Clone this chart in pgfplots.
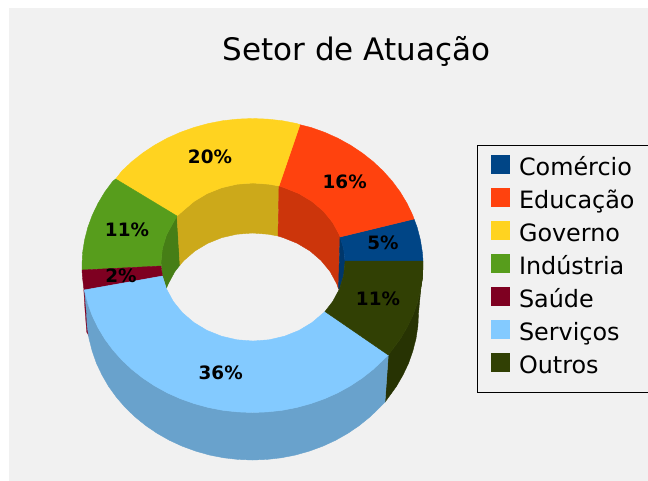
\documentclass[border=0pt]{standalone}
\usepackage{fontspec}
\setmainfont{DejaVu Sans}
\usepackage{pgfplots}
\pgfplotsset{compat=1.18}

\definecolor{bg}{HTML}{F1F1F1}
\definecolor{com}{HTML}{004586}
\definecolor{edu}{HTML}{FF420E}
\definecolor{gov}{HTML}{FFD320}
\definecolor{ind}{HTML}{579D1C}
\definecolor{sau}{HTML}{7E0021}
\definecolor{ser}{HTML}{83CAFF}
\definecolor{out}{HTML}{314004}
% darker side walls
\definecolor{comw}{HTML}{00376B}
\definecolor{eduw}{HTML}{CC350B}
\definecolor{govw}{HTML}{CCA91A}
\definecolor{indw}{HTML}{467E16}
\definecolor{serw}{HTML}{69A2CC}
\definecolor{outw}{HTML}{273303}

\begin{document}
\begin{tikzpicture}
\path[use as bounding box,clip] (0,0) rectangle (486pt,360pt);
\begin{axis}[
	at={(0,0)}, anchor=south west,
	scale only axis, width=486pt, height=360pt,
	xmin=0, xmax=648, ymin=0, ymax=480, y dir=reverse,
	hide axis, no markers,
	legend style={
		at={(axis cs:491,153)}, anchor=north west,
		draw=none, fill=none, inner sep=0pt,
		font=\fontsize{17.9pt}{20pt}\selectfont,
		row sep=0pt,
		nodes={text height=17pt, text depth=7.75pt, inner sep=0pt, outer sep=0pt},
		/tikz/column 1/.style={column sep=7pt},
	},
	legend cell align=left,
	legend image code/.code={
		\fill[#1] (3pt,-2.5pt) rectangle (16.5pt,11pt);
	},
]
% panel
\addplot[draw=bg,fill=bg,forget plot] coordinates {(9,8)(648,8)(648,480)(9,480)} --cycle;
\addplot[draw=black,line width=.75pt,fill=bg,forget plot] coordinates {(477.5,145)(670,145)(670,392)(477.5,392)} --cycle;

% inner walls of the hole
\addplot[draw=indw,fill=indw,line width=.3pt,forget plot] coordinates {(177,216)(173.3,222.5)(166.5,235)(162.4,248.3)(161,262)(162.4,275.7)(166.5,288)(168.3,283.7)(174.9,271.5)(180,265)} --cycle;
\addplot[draw=govw,fill=govw,line width=.3pt,forget plot] coordinates {(279,186)(269,184.2)(253,183)(237,184.2)(221.5,187.8)(207,193.6)(193.9,201.5)(182.5,211.2)(177,216)(180,265)(183.9,260.5)(194.9,251)(207.7,243.3)(221.9,237.6)(236.9,234.2)(252.5,233)(268.1,234.2)(278,236)} --cycle;
\addplot[draw=eduw,fill=eduw,line width=.3pt,forget plot] coordinates {(340,237)(339.5,235)(332.7,222.5)(323.5,211.2)(312.1,201.5)(299,193.6)(284.5,187.8)(279,186)(278,236)(283.1,237.6)(297.3,243.3)(310.1,251)(321.1,260.5)(330.1,271.5)(336.7,283.7)(338.5,289)} --cycle;
\addplot[draw=comw,fill=comw,line width=.3pt,forget plot] coordinates {(340,237)(343.6,248.3)(345,262)(343.6,275.7)(339.5,289)(338.5,289)} --cycle;

% outer walls
\addplot[draw=sau,fill=sau,line width=.2pt,forget plot] coordinates {(83.8,290)(85,310)(86.7,332)(89,336)(89,290)} --cycle;
\addplot[draw=outw,fill=outw,line width=.3pt,forget plot] coordinates {(388.3,355)(392.2,349.8)(400.2,339)(407,327.6)(412.7,315.8)(417.2,303.5)(420.4,291)(422.4,278.3)(423,265.5)(418.5,313)(417.9,325.8)(416,338.5)(412.8,351)(408.5,363.3)(402.9,375.1)(396.3,386.5)(388.5,397.3)(385,402)} --cycle;
\addplot[draw=serw,fill=serw,line width=.3pt,forget plot] coordinates {
	(84.6,291)(87.8,303.5)(92.3,315.8)(98,327.6)(104.8,339)(112.8,349.8)(121.9,360)(131.9,369.4)(142.9,378.1)(154.7,385.9)(167.2,392.8)(180.4,398.7)(194.2,403.6)(208.4,407.5)(222.9,410.3)(237.6,411.9)(252.5,412.5)(267.4,411.9)(282.1,410.3)(296.6,407.5)(310.8,403.6)(324.6,398.7)(337.8,392.8)(350.3,385.9)(362.1,378.1)(373.1,369.4)(383.1,360)(388.3,355)
	(385,402)(379.7,407.5)(369.9,416.9)(359.2,425.6)(347.7,433.4)(335.5,440.3)(322.7,446.2)(309.3,451.1)(295.5,455)(281.3,457.8)(267,459.4)(252.5,460)(238,459.4)(223.7,457.8)(209.5,455)(195.7,451.1)(182.3,446.2)(169.5,440.3)(157.3,433.4)(145.8,425.6)(135.1,416.9)(125.3,407.5)(116.5,397.3)(108.7,386.5)(102.1,375.1)(96.5,363.3)(92.2,351)(89,338.5)(87.1,325.8)(86.5,313)
} --cycle;

% top surface, one slice per category
\addplot[draw=com,fill=com,line width=.3pt] coordinates {(414,219)(417.2,227.5)(420.4,240)(422.4,252.7)(423,261)(345,261)(343.6,248.3)(340,237)} --cycle;
\addlegendentry{Comércio}
\addplot[draw=edu,fill=edu,line width=.3pt] coordinates {(414,219)(412.7,215.2)(407,203.4)(400.2,192)(392.2,181.2)(383.1,171)(373.1,161.6)(362.1,152.9)(350.3,145.1)(337.8,138.2)(324.6,132.3)(310.8,127.4)(300,124.7)(279,186)(284.5,187.8)(299,193.6)(312.1,201.5)(323.5,211.2)(332.7,222.5)(339.5,235)(340,237)} --cycle;
\addlegendentry{Educação}
\addplot[draw=gov,fill=gov,line width=.3pt] coordinates {(300,124.7)(296.6,123.5)(282.1,120.7)(267.4,119.1)(252.5,118.5)(237.6,119.1)(222.9,120.7)(208.4,123.5)(194.2,127.4)(180.4,132.3)(167.2,138.2)(154.7,145.1)(142.9,152.9)(131.9,161.6)(121.9,171)(115.7,179)(177,216)(182.5,211.2)(193.9,201.5)(207,193.6)(221.5,187.8)(237,184.2)(253,183)(269,184.2)(279,186)} --cycle;
\addlegendentry{Governo}
\addplot[draw=ind,fill=ind,line width=.3pt] coordinates {(115.7,179)(112.8,181.2)(104.8,192)(98,203.4)(92.3,215.2)(87.8,227.5)(84.6,240)(82.6,252.7)(82,265.5)(82,270)(161,266)(161,262)(162.4,248.3)(166.5,235)(173.3,222.5)(177,216)} --cycle;
\addlegendentry{Indústria}
\addplot[draw=sau,fill=sau,line width=.3pt] coordinates {(82,270)(82.6,278.3)(84,290)(162.4,276)(161,266)} --cycle;
\addlegendentry{Saúde}
\addplot[draw=ser,fill=ser,line width=.3pt] coordinates {
	(84,290)(84.6,291)(87.8,303.5)(92.3,315.8)(98,327.6)(104.8,339)(112.8,349.8)(121.9,360)(131.9,369.4)(142.9,378.1)(154.7,385.9)(167.2,392.8)(180.4,398.7)(194.2,403.6)(208.4,407.5)(222.9,410.3)(237.6,411.9)(252.5,412.5)(267.4,411.9)(282.1,410.3)(296.6,407.5)(310.8,403.6)(324.6,398.7)(337.8,392.8)(350.3,385.9)(362.1,378.1)(373.1,369.4)(383.1,360)(388.3,355)
	(325,311.5)(323.5,312.8)(312.1,322.5)(299,330.4)(284.5,336.2)(269,339.8)(253,341)(237,339.8)(221.5,336.2)(207,330.4)(193.9,322.5)(182.5,312.8)(173.3,301.5)(166.5,289)(162.4,276)
} --cycle;
\addlegendentry{Serviços}
\addplot[draw=out,fill=out,line width=.3pt] coordinates {(423,261)(423,265.5)(422.4,278.3)(420.4,291)(417.2,303.5)(412.7,315.8)(407,327.6)(400.2,339)(392.2,349.8)(388.3,355)(325,311.5)(332.7,301.5)(339.5,289)(343.6,275.7)(345,262)(345,261)} --cycle;
\addlegendentry{Outros}

% percentages and title
\begin{scope}[every node/.style={font=\fontsize{13.8pt}{16pt}\selectfont\bfseries, inner sep=0pt}]
\node at (axis cs:383,243) {5\%};
\node at (axis cs:344.7,181.7) {16\%};
\node at (axis cs:210,156.7) {20\%};
\node at (axis cs:127,230) {11\%};
\node at (axis cs:121,275.7) {2\%};
\node at (axis cs:220.7,372.3) {36\%};
\node at (axis cs:378,298.3) {11\%};
\end{scope}
\node[font=\fontsize{23.25pt}{28pt}\selectfont, inner sep=0pt] at (axis cs:356.5,51.5) {Setor de Atuação};
\end{axis}
\end{tikzpicture}
\end{document}
